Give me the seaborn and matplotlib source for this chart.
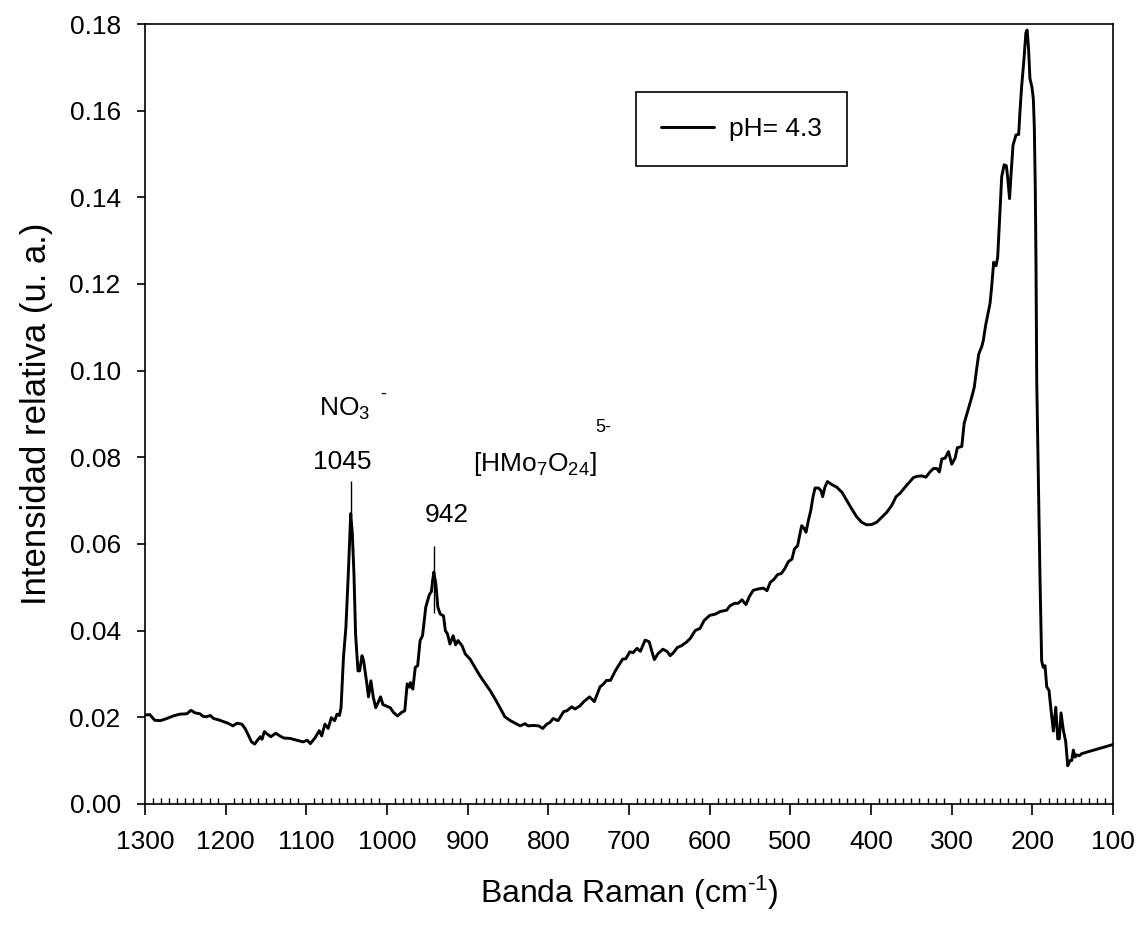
import matplotlib
matplotlib.use("Agg")
import matplotlib.pyplot as plt
import pandas as pd
import seaborn as sns
from matplotlib.ticker import MultipleLocator, FormatStrFormatter, FixedLocator

# Raman spectrum, pH 4.3 (wavenumber in cm-1, relative intensity)
wavenumber = [
    1300, 1294, 1288, 1281, 1273, 1265, 1257, 1248, 1243, 1238, 1232, 1228, 1224,
    1219, 1215, 1209, 1203, 1197, 1191, 1186, 1180, 1176, 1172, 1168, 1164, 1161,
    1157, 1155, 1152, 1149, 1144, 1138, 1133, 1128, 1120, 1112, 1104, 1099, 1095,
    1089, 1084, 1081, 1077, 1073, 1069, 1065, 1062, 1059, 1057, 1054, 1051, 1048,
    1045, 1043, 1041, 1039, 1036, 1034, 1031, 1029, 1025, 1023, 1020, 1017, 1014,
    1011, 1008, 1005, 1000, 996, 992, 987, 982, 978, 975, 972, 971, 968, 965, 962,
    959, 956, 952, 947.5, 945, 943.5, 942, 939.5, 937, 934, 930, 927.7, 925, 922,
    918, 915, 912, 907, 903, 897, 891, 885, 878, 872, 866, 860, 854, 847, 841, 835,
    829, 825, 819, 812, 807, 802, 798, 794, 788, 781, 777, 771, 767, 761, 756, 749,
    743, 736, 732, 728, 723, 717, 713, 708, 704, 699, 695, 690, 686, 680, 675, 672,
    668.6, 664, 658, 653, 649, 645, 640, 635, 629, 624, 618, 612, 607, 600, 593,
    587, 579, 575, 569, 564.5, 560, 555, 551, 546, 540, 533.5, 529, 525, 520, 516,
    511, 506.6, 502.5, 498, 495, 491, 489, 486, 483, 480.6, 477.7, 474.7, 472,
    469.4, 465.3, 462, 460, 457, 454, 448.7, 442.5, 436, 430, 424, 418, 411.6,
    405.4, 399, 393, 387, 380.5, 374.3, 369, 364, 356, 347.5, 343, 337, 332, 327,
    322.7, 318.5, 315.3, 312.3, 308.2, 304, 300, 295.8, 293, 287.5, 284.6, 281.5,
    279.4, 275, 272, 269, 266.5, 262.5, 260.8, 258, 254.6, 252.5, 250.5, 248, 245,
    243, 240.2, 238, 235, 232.3, 230.3, 228.3, 226.2, 224, 220.3, 217, 215.3,
    213.3, 210.6, 208, 206.5, 204.8, 203, 200.5, 198.8, 197.6, 196.4, 195.5,
    194.6, 192.6, 190.5, 188.5, 186.5, 184.3, 182.2, 179.4, 176.9, 174, 171,
    168.6, 166.6, 164.5, 161.6, 158.7, 156.2, 153.3, 151.2, 149.2, 147.1, 145,
    141.8, 138.8, 100,
]
intensity = [
    0.0205, 0.0206, 0.0193, 0.0192, 0.0197, 0.0203, 0.0207, 0.0208, 0.0216, 0.0210,
    0.0208, 0.0202, 0.0201, 0.0204, 0.0197, 0.0194, 0.0190, 0.0186, 0.0180, 0.0186,
    0.0184, 0.0174, 0.0159, 0.0143, 0.0138, 0.0146, 0.0155, 0.0149, 0.0167, 0.0162,
    0.0155, 0.0163, 0.0157, 0.0152, 0.0151, 0.0147, 0.0143, 0.0147, 0.0139, 0.0153,
    0.0169, 0.0157, 0.0184, 0.0174, 0.0199, 0.0192, 0.0207, 0.0204, 0.0222, 0.0338,
    0.0407, 0.0531, 0.0670, 0.0623, 0.0531, 0.0392, 0.0307, 0.0307, 0.0342, 0.0330,
    0.0277, 0.0247, 0.0284, 0.0246, 0.0222, 0.0234, 0.0247, 0.0229, 0.0225, 0.0222,
    0.0211, 0.0203, 0.0211, 0.0215, 0.0277, 0.0269, 0.0280, 0.0265, 0.0315, 0.0319,
    0.0377, 0.0388, 0.0454, 0.0483, 0.0490, 0.0515, 0.0535, 0.0508, 0.0454, 0.0438,
    0.0434, 0.0400, 0.0392, 0.0369, 0.0388, 0.0367, 0.0377, 0.0365, 0.0346, 0.0334,
    0.0315, 0.0296, 0.0277, 0.0261, 0.0242, 0.0222, 0.0201, 0.0192, 0.0186, 0.0180,
    0.0185, 0.0180, 0.0181, 0.0180, 0.0174, 0.0184, 0.0188, 0.0197, 0.0192, 0.0213,
    0.0215, 0.0224, 0.0219, 0.0226, 0.0236, 0.0247, 0.0236, 0.0270, 0.0276, 0.0285,
    0.0285, 0.0307, 0.0319, 0.0334, 0.0335, 0.0351, 0.0349, 0.0359, 0.0352, 0.0378,
    0.0374, 0.0354, 0.0333, 0.0347, 0.0357, 0.0352, 0.0342, 0.0349, 0.0361, 0.0365,
    0.0373, 0.0382, 0.0400, 0.0405, 0.0423, 0.0435, 0.0438, 0.0444, 0.0447, 0.0457,
    0.0463, 0.0463, 0.0471, 0.0460, 0.0478, 0.0493, 0.0496, 0.0498, 0.0492, 0.0511,
    0.0519, 0.0529, 0.0532, 0.0544, 0.0559, 0.0565, 0.0588, 0.0596, 0.0615, 0.0642,
    0.0636, 0.0627, 0.0654, 0.0677, 0.0708, 0.0729, 0.0729, 0.0723, 0.0709, 0.0732,
    0.0744, 0.0737, 0.0731, 0.0719, 0.0700, 0.0681, 0.0663, 0.0650, 0.0644, 0.0645,
    0.0650, 0.0661, 0.0673, 0.0689, 0.0709, 0.0717, 0.0735, 0.0753, 0.0756, 0.0757,
    0.0754, 0.0766, 0.0774, 0.0774, 0.0766, 0.0796, 0.0798, 0.0813, 0.0784, 0.0798,
    0.0822, 0.0825, 0.0878, 0.0898, 0.0912, 0.0940, 0.0962, 0.1005, 0.1038, 0.1057,
    0.1070, 0.1104, 0.1135, 0.1155, 0.1193, 0.1250, 0.1242, 0.1262, 0.1365, 0.1448,
    0.1475, 0.1473, 0.1440, 0.1397, 0.1460, 0.1520, 0.1544, 0.1545, 0.1600, 0.1656,
    0.1715, 0.1780, 0.1786, 0.1745, 0.1674, 0.1654, 0.1627, 0.1562, 0.1420, 0.1244,
    0.0977, 0.0746, 0.0515, 0.0330, 0.0315, 0.0319, 0.0270, 0.0262, 0.0217, 0.0168,
    0.0223, 0.0150, 0.0150, 0.0210, 0.0170, 0.0144, 0.0088, 0.0100, 0.0100, 0.0124,
    0.0108, 0.0113, 0.0111, 0.0116, 0.0137,
]
series_label = "pH= 4.3"

x_major_ticks = list(range(1300, 99, -100))
y_major_ticks = [0.00, 0.02, 0.04, 0.06, 0.08, 0.10, 0.12, 0.14, 0.16, 0.18]

# Band assignments
nitrate_peak = 1045
hepta_peak = 942

sns.set_theme(style="ticks")
plt.rcParams["font.family"] = ["Liberation Sans", "DejaVu Sans"]
plt.rcParams.update({
    "mathtext.fontset": "custom",
    "mathtext.rm": "Liberation Sans",
    "mathtext.it": "Liberation Sans:italic",
    "mathtext.bf": "Liberation Sans:bold",
    "axes.edgecolor": "black",
    "axes.linewidth": 1.2,
    "xtick.color": "black",
    "ytick.color": "black",
    "text.color": "black",
    "axes.labelcolor": "black",
})

fig = plt.figure(figsize=(11.41, 9.38), dpi=100)
ax = fig.add_axes([0.1271, 0.1430, 0.8484, 0.8314])

df = pd.DataFrame({"Banda": wavenumber, "Intensidad": intensity})
sns.lineplot(data=df, x="Banda", y="Intensidad", ax=ax, color="black",
             linewidth=2.1, label=series_label, estimator=None, sort=False)

ax.set_xlim(1300, 100)
ax.set_ylim(0, 0.18)
ax.xaxis.set_major_locator(FixedLocator(x_major_ticks))
ax.xaxis.set_minor_locator(MultipleLocator(10))
ax.yaxis.set_major_locator(FixedLocator(y_major_ticks))
ax.yaxis.set_major_formatter(FormatStrFormatter("%.2f"))

ax.tick_params(axis="x", which="major", direction="out", length=8, width=1.2,
               labelsize=19, pad=11, top=False)
ax.tick_params(axis="x", which="minor", direction="in", length=4.5, width=1.0,
               top=False)
ax.tick_params(axis="y", which="major", direction="out", length=5.5, width=1.2,
               labelsize=19, pad=12, right=False)
ax.tick_params(axis="y", which="minor", left=False, right=False)
for side in ["top", "right", "bottom", "left"]:
    ax.spines[side].set_visible(True)
    ax.spines[side].set_color("black")
    ax.spines[side].set_linewidth(1.2)

ax.set_xlabel(r"Banda Raman (cm$^{\text{-1}}$)", fontsize=23, labelpad=14)
ax.set_ylabel("Intensidad relativa (u. a.)", fontsize=25, labelpad=12)

leg = ax.legend(loc="upper left", bbox_to_anchor=(0.507, 0.9127),
                borderaxespad=0, frameon=True, fancybox=False,
                edgecolor="black", framealpha=1, fontsize=19,
                handlelength=2.0, handletextpad=0.6, borderpad=0.95)
leg.get_frame().set_linewidth(1.2)

# Peak markers and assignments
ax.vlines(nitrate_peak, 0.0665, 0.0745, color="black", linewidth=1.0)
ax.vlines(hepta_peak, 0.0440, 0.0596, color="black", linewidth=1.0)
ax.text(1084, 0.0896, r"NO$_3$", ha="left", va="baseline", fontsize=19)
ax.text(1008, 0.0934, "-", ha="left", va="baseline", fontsize=13)
ax.text(1056, 0.0772, str(nitrate_peak), ha="center", va="baseline", fontsize=19)
ax.text(925.6, 0.0650, str(hepta_peak), ha="center", va="baseline", fontsize=19)
ax.text(893.4, 0.0769, r"[HMo$_7$O$_{24}$]", ha="left", va="baseline",
        fontsize=19)
ax.text(742, 0.0859, "5-", ha="left", va="baseline", fontsize=13)

fig.savefig("out.png", dpi=100)
